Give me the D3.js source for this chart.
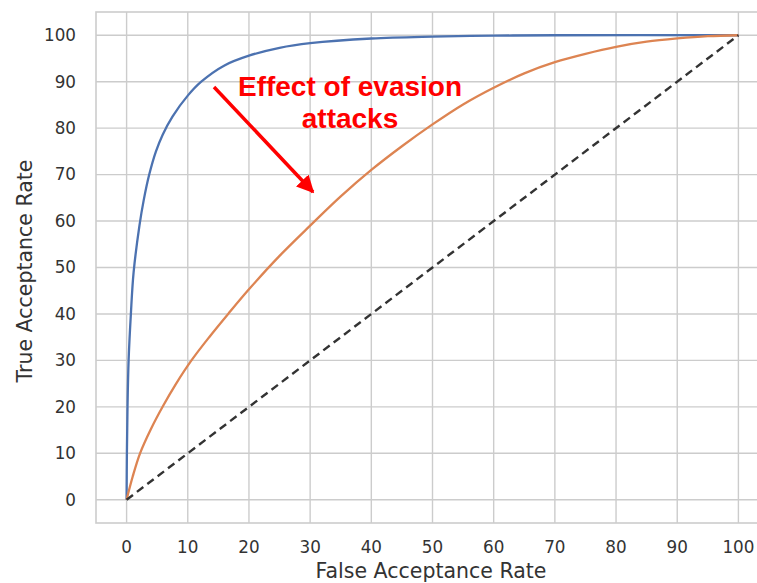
<!DOCTYPE html>
<html>
<head>
    <style>
        body { margin: 0; background: #fff; }
        svg { display: block; font-family: "DejaVu Sans", sans-serif; }
    </style>
</head>
<body>
    <svg id="roc" width="757" height="583"></svg>
    <script src="https://d3js.org/d3.v7.min.js"></script>
    <script>
        // ROC curves, values (FAR %, TAR %)
        const cleanFar = [0, 0.05, 0.15, 0.33, 0.7, 1.15, 2.1, 2.8, 3.7, 4.8, 5.9, 7.5, 10, 12.2, 16, 20, 25, 30, 40, 50, 60, 70, 100];
        const cleanTar = [0, 10, 20, 30, 40, 49, 59, 64.5, 70, 75, 78.6, 82.5, 87, 90, 93.5, 95.6, 97.3, 98.3, 99.3, 99.7, 99.9, 100, 100];
        const evadedFar = [0, 1, 2.2, 4, 6, 8, 10.6, 13.5, 16.6, 20, 25, 30, 35, 40, 45, 50, 55, 60, 65, 70, 75, 80, 85, 90, 95, 100];
        const evadedTar = [0, 5, 10, 15.3, 20.3, 24.8, 30, 35, 40, 45.3, 52.5, 59, 65.3, 71, 76.1, 80.8, 85.1, 88.7, 91.8, 94.2, 96, 97.5, 98.6, 99.3, 99.8, 100];
        const chanceLine = [0, 100];
        const ticks = [0, 10, 20, 30, 40, 50, 60, 70, 80, 90, 100];

        const svg = d3.select("#roc");
        const plotL = 96, plotT = 12, plotR = 769, plotB = 523;

        const x = d3.scaleLinear().domain([-5, 105]).range([plotL, plotR]);
        const y = d3.scaleLinear().domain([-5, 105]).range([plotB, plotT]);

        // grid
        const grid = svg.append("g").attr("stroke", "#cccccc").attr("stroke-width", 1.4);
        grid.selectAll("line.v").data(ticks).join("line").attr("class", "v")
            .attr("x1", d => x(d)).attr("x2", d => x(d))
            .attr("y1", plotT).attr("y2", plotB);
        grid.selectAll("line.h").data(ticks).join("line").attr("class", "h")
            .attr("y1", d => y(d)).attr("y2", d => y(d))
            .attr("x1", plotL).attr("x2", plotR);
        svg.append("rect")
            .attr("x", plotL).attr("y", plotT)
            .attr("width", plotR - plotL).attr("height", plotB - plotT)
            .attr("fill", "none").attr("stroke", "#cccccc").attr("stroke-width", 1.6);

        // tick labels
        svg.append("g").selectAll("text").data(ticks).join("text")
            .attr("x", d => x(d)).attr("y", 553)
            .attr("text-anchor", "middle").attr("font-size", 16.8).attr("fill", "#333")
            .text(d => d);
        svg.append("g").selectAll("text").data(ticks).join("text")
            .attr("x", 76).attr("y", d => y(d)).attr("dy", "0.35em")
            .attr("text-anchor", "end").attr("font-size", 16.8).attr("fill", "#333")
            .text(d => d);

        svg.append("text")
            .attr("x", 431).attr("y", 578)
            .attr("text-anchor", "middle").attr("font-size", 20.5).attr("fill", "#333")
            .text("False Acceptance Rate");
        svg.append("text")
            .attr("transform", "translate(32,271) rotate(-90)")
            .attr("text-anchor", "middle").attr("font-size", 20.5).attr("fill", "#333")
            .text("True Acceptance Rate");

        const line = d3.line().x(d => x(d[0])).y(d => y(d[1])).curve(d3.curveCatmullRom.alpha(0.5));

        svg.append("path")
            .datum(cleanFar.map((f, i) => [f, cleanTar[i]]))
            .attr("d", line).attr("fill", "none")
            .attr("stroke", "#4c72b0").attr("stroke-width", 2.3);
        svg.append("path")
            .datum(evadedFar.map((f, i) => [f, evadedTar[i]]))
            .attr("d", line).attr("fill", "none")
            .attr("stroke", "#dd8452").attr("stroke-width", 2.3);
        svg.append("path")
            .datum(chanceLine.map(v => [v, v]))
            .attr("d", d3.line().x(d => x(d[0])).y(d => y(d[1])))
            .attr("fill", "none").attr("stroke", "#333")
            .attr("stroke-width", 2.4).attr("stroke-dasharray", "8,5");

        // annotation
        svg.append("defs").append("marker")
            .attr("id", "head").attr("viewBox", "0 0 10 10")
            .attr("refX", 9).attr("refY", 5)
            .attr("markerWidth", 5).attr("markerHeight", 5)
            .attr("orient", "auto")
            .append("path").attr("d", "M0,0 L10,5 L0,10 Z").attr("fill", "#ff0000");
        svg.append("line")
            .attr("x1", 214).attr("y1", 87).attr("x2", 313).attr("y2", 192)
            .attr("stroke", "#ff0000").attr("stroke-width", 3.5)
            .attr("marker-end", "url(#head)");
        const note = svg.append("text")
            .attr("text-anchor", "middle").attr("font-family", "Liberation Sans, Arial, sans-serif")
            .attr("font-weight", "bold").attr("font-size", 28).attr("fill", "#ff0000");
        note.append("tspan").attr("x", 350).attr("y", 96).text("Effect of evasion");
        note.append("tspan").attr("x", 350).attr("y", 128).text("attacks");
    </script>
</body>
</html>
